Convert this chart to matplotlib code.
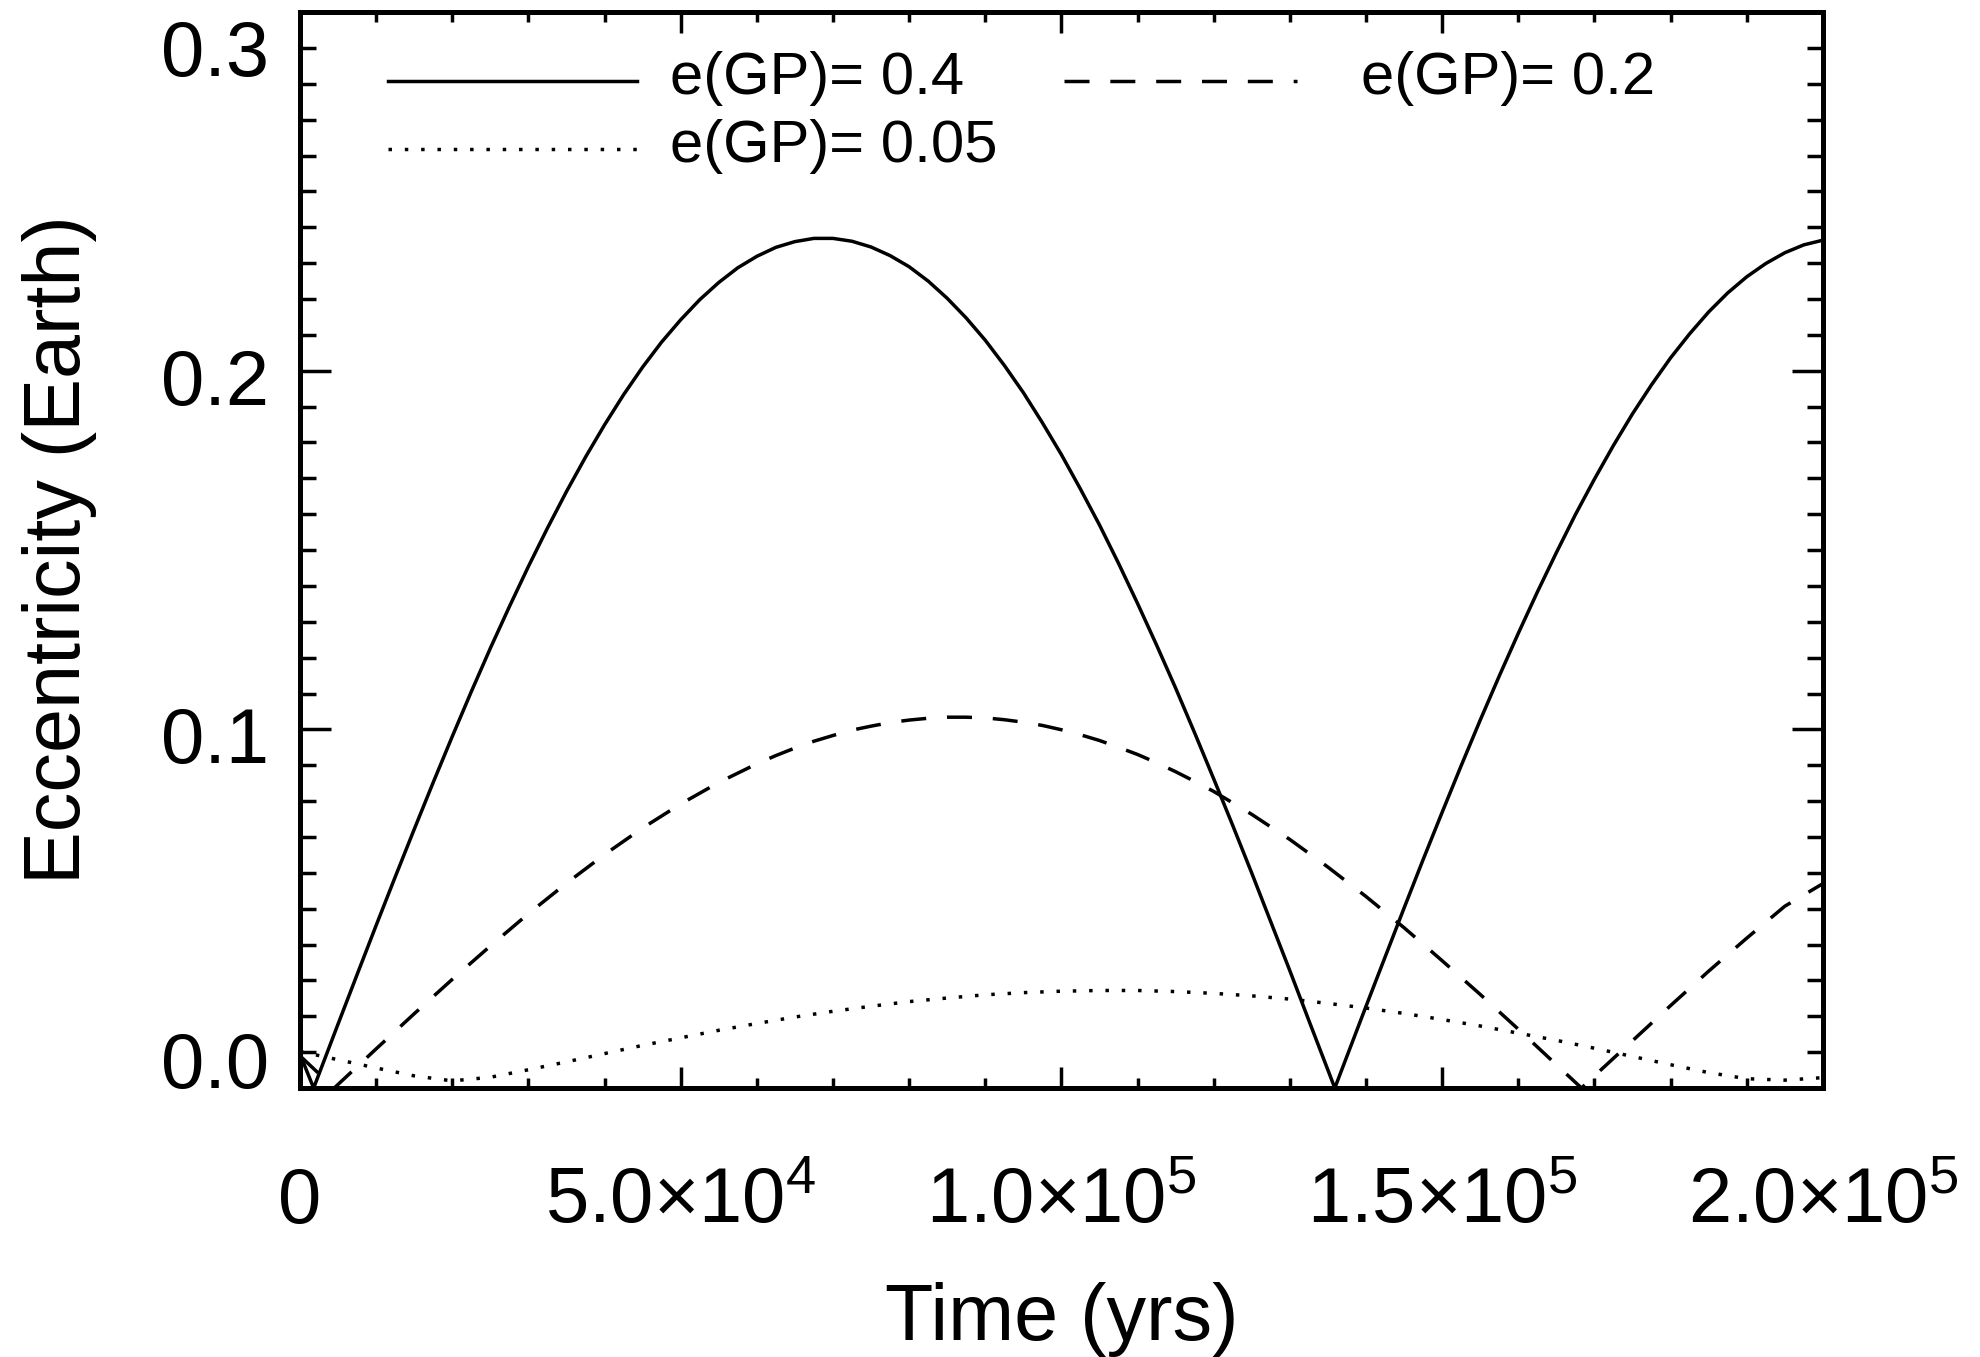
import matplotlib
matplotlib.use("Agg")
import matplotlib.pyplot as plt
from matplotlib.ticker import FixedLocator, MultipleLocator

plt.rcParams['font.family'] = ['Liberation Sans', 'DejaVu Sans']
plt.rcParams['mathtext.fontset'] = 'custom'
plt.rcParams['mathtext.rm'] = 'Liberation Sans'
plt.rcParams['mathtext.it'] = 'Liberation Sans:italic'
plt.rcParams['mathtext.bf'] = 'Liberation Sans:bold'

# ---------------- data (time in thousands of years) ----------------
t_04 = [0, 1.8, 5, 7.5, 10, 12.5, 15, 17.5, 20, 22.5, 25, 27.5, 30, 32.5, 35, 37.5,
        40, 42.5, 45, 47.5, 50, 52.5, 55, 57.5, 60, 62.5, 65, 67.5, 70, 72.5, 75,
        77.5, 80, 82.5, 85, 87.5, 90, 92.5, 95, 97.5, 100, 102.5, 105, 107.5, 110,
        112.5, 115, 117.5, 120, 122.5, 125, 127.5, 130, 132.5, 135, 135.9, 137.5,
        140, 142.5, 145, 147.5, 150, 152.5, 155, 157.5, 160, 162.5, 165, 167.5,
        170, 172.5, 175, 177.5, 180, 182.5, 185, 187.5, 190, 192.5, 195, 197.5, 200]
e_04 = [0.0095, 0.0, 0.0178, 0.0316, 0.0453, 0.0588, 0.0721, 0.0852, 0.0980, 0.1105,
        0.1226, 0.1342, 0.1454, 0.1561, 0.1663, 0.1759, 0.1849, 0.1933, 0.2010,
        0.2080, 0.2142, 0.2198, 0.2246, 0.2287, 0.2319, 0.2344, 0.2360, 0.2369,
        0.2369, 0.2361, 0.2345, 0.2321, 0.2290, 0.2250, 0.2202, 0.2147, 0.2085,
        0.2015, 0.1939, 0.1855, 0.1766, 0.1670, 0.1570, 0.1463, 0.1351, 0.1235,
        0.1115, 0.0990, 0.0862, 0.0732, 0.0599, 0.0463, 0.0327, 0.0188, 0.0050,
        0.0, 0.0089, 0.0228, 0.0365, 0.0502, 0.0637, 0.0769, 0.0899, 0.1026, 0.1149,
        0.1268, 0.1383, 0.1493, 0.1599, 0.1698, 0.1792, 0.1880, 0.1961, 0.2036,
        0.2103, 0.2164, 0.2217, 0.2262, 0.2299, 0.2329, 0.2351, 0.2364]

t_02 = [0, 4.5, 10, 15, 20, 25, 30, 35, 40, 45, 50, 55, 60, 62.5, 65, 67.5, 70, 72.5,
        75, 77.5, 80, 82.5, 85, 87.5, 90, 92.5, 95, 97.5, 100, 102.5, 105, 107.5,
        110, 112.5, 115, 117.5, 120, 125, 130, 135, 140, 145, 150, 155, 160, 165,
        168.3, 170, 175, 180, 185, 190, 195, 200]
e_02 = [0.0090, 0.0, 0.0109, 0.0207, 0.0303, 0.0396, 0.0486, 0.0571, 0.0651, 0.0725,
        0.0792, 0.0852, 0.0904, 0.0927, 0.0948, 0.0967, 0.0983, 0.0998, 0.1009,
        0.1019, 0.1026, 0.1031, 0.1034, 0.1034, 0.1032, 0.1027, 0.1020, 0.1011,
        0.0999, 0.0985, 0.0969, 0.0950, 0.0930, 0.0907, 0.0882, 0.0855, 0.0827,
        0.0763, 0.0693, 0.0616, 0.0534, 0.0447, 0.0355, 0.0261, 0.0164, 0.0065,
        0.0, 0.0034, 0.0132, 0.0230, 0.0326, 0.0418, 0.0507, 0.0570]

t_005 = [0, 5, 10, 15, 20, 25, 30, 35, 40, 45, 50, 55, 60, 65, 70, 75, 80, 85, 90,
         95, 100, 105, 110, 115, 120, 125, 130, 135, 140, 145, 150, 155, 160, 165,
         170, 175, 180, 185, 190, 195, 200]
e_005 = [0.0102, 0.0079, 0.0056, 0.0034, 0.0020, 0.0030, 0.0051, 0.0073, 0.0096,
         0.0119, 0.0140, 0.0161, 0.0180, 0.0198, 0.0214, 0.0228, 0.0241, 0.0251,
         0.0260, 0.0266, 0.0270, 0.0272, 0.0272, 0.0269, 0.0264, 0.0257, 0.0248,
         0.0236, 0.0223, 0.0208, 0.0191, 0.0173, 0.0153, 0.0133, 0.0111, 0.0088,
         0.0065, 0.0043, 0.0026, 0.0022, 0.0029]

series_labels = ['e(GP)= 0.4', 'e(GP)= 0.2', 'e(GP)= 0.05']

x_ticks = [0, 5e4, 1e5, 1.5e5, 2e5]
x_ticklabels = ['0', r'5.0×$\mathrm{10}^{\mathrm{4}}$', r'1.0×$\mathrm{10}^{\mathrm{5}}$',
                r'1.5×$\mathrm{10}^{\mathrm{5}}$', r'2.0×$\mathrm{10}^{\mathrm{5}}$']
y_ticks = [0.0, 0.1, 0.2, 0.3]
y_ticklabels = ['0.0', '0.1', '0.2', '0.3']

# ---------------- figure ----------------
fig = plt.figure(figsize=(19.81, 13.57), dpi=100)
ax = fig.add_axes([0.1514, 0.1982, 0.7688, 0.7929])

lw = 2.5
solid_style = dict(color='black', lw=lw, linestyle='-')
dash_style = dict(color='black', lw=lw, linestyle=(0, (7.2, 6.0)))
dot_style = dict(color='black', lw=lw, linestyle=(0, (1.0, 3.7)))

ax.plot([t * 1e3 for t in t_04], e_04, **solid_style)
ax.plot([t * 1e3 for t in t_02], e_02, **dash_style)
ax.plot([t * 1e3 for t in t_005], e_005, **dot_style)

ax.set_xlim(0, 2e5)
ax.set_ylim(0, 0.3)

for s in ax.spines.values():
    s.set_linewidth(3.6)

ax.xaxis.set_major_locator(FixedLocator(x_ticks))
ax.xaxis.set_minor_locator(MultipleLocator(1e4))
ax.yaxis.set_major_locator(FixedLocator(y_ticks))
ax.yaxis.set_minor_locator(MultipleLocator(0.01))
ax.tick_params(axis='both', which='both', direction='in', top=True, right=True,
               labelbottom=False, labelleft=False, width=2.5, color='black')
ax.tick_params(axis='x', which='major', length=15)
ax.tick_params(axis='x', which='minor', length=7.5)
ax.tick_params(axis='y', which='major', length=22)
ax.tick_params(axis='y', which='minor', length=11.5)

# tick labels (placed as annotations for IDL-like alignment)
for xv, lab in zip(x_ticks, x_ticklabels):
    ax.annotate(lab, xy=(xv, 0), xycoords=ax.get_xaxis_transform(),
                xytext=(0, -97), textcoords='offset points',
                ha='center', va='baseline', fontsize=56, annotation_clip=False)

y_offsets = [0, -24, -25, -46]
for yv, lab, off in zip(y_ticks, y_ticklabels, y_offsets):
    ax.annotate(lab, xy=(0, yv), xycoords=ax.get_yaxis_transform(),
                xytext=(-22, off), textcoords='offset points',
                ha='right', va='baseline', fontsize=56, annotation_clip=False)

ax.set_xlabel('Time (yrs)', fontsize=57)
ax.xaxis.label.set_va('baseline')
ax.xaxis.set_label_coords(0.5, -0.2342)
ax.set_ylabel('Eccentricity (Earth)', fontsize=57)
ax.yaxis.label.set_va('baseline')
ax.yaxis.set_label_coords(-0.1445, 0.5)

# legend drawn manually
leg_rows = [
    (0.058, 0.221, 0.936, 0.243, solid_style, series_labels[0]),
    (0.502, 0.655, 0.936, 0.697, dash_style, series_labels[1]),
    (0.058, 0.221, 0.873, 0.243, dot_style, series_labels[2]),
]
for x0, x1, yy, xt, st, lab in leg_rows:
    ax.plot([x0, x1], [yy, yy], transform=ax.transAxes, clip_on=False, **st)
    ax.text(xt, yy + 0.002, lab, transform=ax.transAxes, fontsize=43,
            ha='left', va='center')

fig.savefig('out.png', dpi=100)
